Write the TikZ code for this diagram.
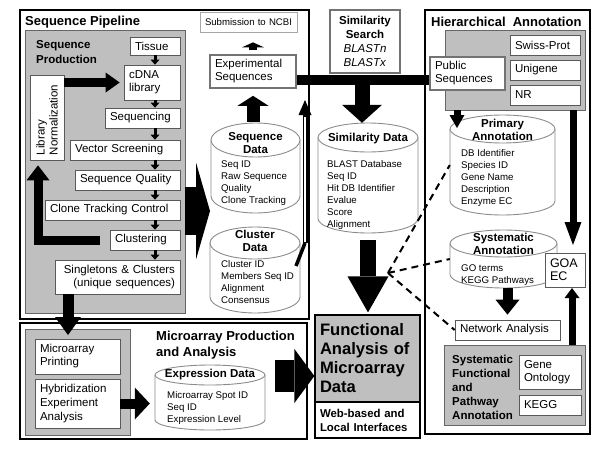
\documentclass[tikz,border=0pt]{standalone}
\usepackage{fontspec}
\setmainfont{Liberation Sans}
\usetikzlibrary{arrows.meta}

\tikzset{
  outerframe/.style={draw=black, line width=1.8pt, inner sep=0pt},
  graybox/.style={draw=black!60, fill=black!25, line width=0.8pt, inner sep=0pt},
  box/.style={draw=black!65, fill=white, line width=0.7pt, inner xsep=5pt, inner ysep=0pt,
    text width=#1, align=left, font=\fontsize{11.5}{13}\selectfont},
  dblbox/.style={box=#1, draw=black!55, line width=1.6pt},
  cylbody/.style={inner sep=0pt},
  cyl/.style={draw=black!45, line width=0.9pt, fill=white},
  cyltitle/.style={font=\bfseries\fontsize{11.5}{13}\selectfont, align=center, inner sep=0pt},
  cyltext/.style={font=\fontsize{9.7}{12}\selectfont, align=left, anchor=north west, inner sep=0pt},
  frametitle/.style={font=\bfseries\fontsize{13}{16}\selectfont, anchor=west, inner sep=0pt},
  smallarr/.style={line width=3pt, -{Triangle[width=9pt,length=5pt,line width=0pt]}},
  fat/.style n args={3}{line width=#1, -{Triangle[width=#2,length=#3,line width=0pt]}},
  dashline/.style={line width=2pt, dash pattern=on 7pt off 5pt}
}

\begin{document}
\begin{tikzpicture}[x=1pt, y=-1pt]
  \useasboundingbox (0,0) rectangle (600,450);

  % frames
  \node[outerframe, minimum width=289pt, minimum height=309pt] (pipeframe) at (164.5,164.5) {};
  \node[outerframe, minimum width=165pt, minimum height=424pt] (hierframe) at (507.5,222) {};
  \node[outerframe, minimum width=287pt, minimum height=116pt] (microframe) at (163.5,381) {};
  \node[frametitle] (pipetitle) at (25,22) {Sequence Pipeline};
  \node[frametitle] (hiertitle) at (431,22) {Hierarchical\ \ Annotation};
  \node[frametitle, anchor=north west, align=left] (microtitle) at (156,331) {Microarray Production\\and Analysis};

  % gray panels
  \node[graybox, minimum width=160pt, minimum height=283pt] (seqprod) at (105,171.5) {};
  \node[graybox, minimum width=140pt, minimum height=80pt] (hiergray) at (515,70) {};
  \node[graybox, minimum width=105pt, minimum height=106pt] (microgray) at (77.5,382) {};
  \node[graybox, minimum width=141pt, minimum height=80pt] (sfpa) at (514.5,385) {};

  % sequence production
  \node[font=\bfseries\fontsize{11.5}{15}\selectfont, align=left, anchor=north west, inner sep=0pt]
    (prodtitle) at (36,40) {Sequence\\Production};
  \node[box=40pt, minimum height=18pt] (tissue) at (155,46) {Tissue};
  \node[box=46pt, minimum height=35pt] (cdna) at (152,82.5) {cDNA\\library};
  \node[box=65pt, minimum height=20pt] (sequencing) at (142.5,118) {Sequencing};
  \node[box=100pt, minimum height=20pt] (vector) at (125,150) {Vector Screening};
  \node[box=95pt, minimum height=20pt] (seqquality) at (127.5,180) {Sequence Quality};
  \node[box=125pt, minimum height=20pt] (clonetrack) at (112.5,210) {Clone Tracking Control};
  \node[box=60pt, minimum height=20pt] (clustering) at (145,240) {Clustering};
  \node[box=115pt, minimum height=34pt, align=right] (singletons) at (117.5,277)
    {Singletons \& Clusters\\(unique sequences)};
  \node[box=75pt, minimum height=34pt, rotate=90] (libnorm) at (47,117.5) {Library\\Normalization};
  \coordinate (pcol) at (155,0);

  % middle column
  \node[box=87pt, minimum height=20pt, inner xsep=5pt, draw=black!35,
    font=\fontsize{9.6}{12}\selectfont] (ncbi) at (248.5,22) {Submission to NCBI};
  \node[dblbox=76pt, minimum height=33pt] (expseq) at (253,71.5) {Experimental\\Sequences};
  \node[dblbox=60pt, minimum height=63pt, align=center, font=\fontsize{11.5}{14}\selectfont]
    (simsearch) at (365,41.5) {\textbf{Similarity}\\\textbf{Search}\\\textit{BLASTn}\\\textit{BLASTx}};

  % sequence data
  \node[cylbody, minimum width=89pt, minimum height=90pt] (seqdata) at (255.5,168) {};
  \draw[cyl] (211,140) -- (211,196) arc[start angle=180, end angle=360, x radius=44.5pt, y radius=17pt] -- (300,140);
  \draw[cyl] (255.5,140) ellipse [x radius=44.5pt, y radius=17pt];
  \node[cyltitle] (seqdatatitle) at (255.5,143.5) {Sequence\\Data};
  \node[cyltext] (seqdatalist) at (221,161) {Seq ID\\Raw Sequence\\Quality\\Clone Tracking};

  % cluster data
  \node[cylbody, minimum width=90pt, minimum height=86pt] (clusdata) at (255,270) {};
  \draw[cyl] (210,243) -- (210,297) arc[start angle=180, end angle=360, x radius=45pt, y radius=16pt] -- (300,243);
  \draw[cyl] (255,243) ellipse [x radius=45pt, y radius=16pt];
  \node[cyltitle] (clusdatatitle) at (255,240.5) {Cluster\\Data};
  \node[cyltext] (clusdatalist) at (221,260) {Cluster ID\\Members Seq ID\\Alignment\\Consensus};

  % similarity data
  \node[cylbody, minimum width=100pt, minimum height=110pt] (simdata) at (368,178) {};
  \draw[cyl] (318,137.5) -- (318,218.5) arc[start angle=180, end angle=360, x radius=50pt, y radius=14.5pt] -- (418,137.5);
  \draw[cyl] (368,137.5) ellipse [x radius=50pt, y radius=14.5pt];
  \node[cyltitle] (simdatatitle) at (368,139) {Similarity Data};
  \node[cyltext] (simdatalist) at (327,160)
    {BLAST Database\\Seq ID\\Hit DB Identifier\\Evalue\\Score\\Alignment};

  % functional analysis
  \node[draw=black, line width=1.2pt, fill=black!25, minimum width=105pt, minimum height=87pt,
    text width=95pt, inner xsep=5pt, align=left, font=\bfseries\fontsize{16.6}{19}\selectfont]
    (funcbox) at (367.5,358.5) {Functional\\Analysis of\\Microarray\\Data};
  \node[draw=black, line width=1.2pt, fill=white, minimum width=105pt, minimum height=36pt,
    text width=95pt, inner xsep=5pt, align=left, font=\bfseries\fontsize{11.4}{14}\selectfont]
    (webbox) at (367.5,420) {Web-based and\\Local Interfaces};

  % hierarchical annotation
  \node[box=60pt, minimum height=20pt] (swissprot) at (545,45) {Swiss-Prot};
  \node[box=60pt, minimum height=20pt] (unigene) at (545,70) {Unigene};
  \node[box=60pt, minimum height=20pt] (nr) at (545,95) {NR};
  \node[dblbox=65pt, minimum height=33pt] (pubseq) at (467.5,73.5) {Public\\Sequences};

  \node[cylbody, minimum width=105pt, minimum height=100pt] (primann) at (502.5,165) {};
  \draw[cyl] (450,129) -- (450,201) arc[start angle=180, end angle=360, x radius=52.5pt, y radius=14pt] -- (555,129);
  \draw[cyl] (502.5,129) ellipse [x radius=52.5pt, y radius=14pt];
  \node[cyltitle] (primanntitle) at (502.5,129.5) {Primary\\Annotation};
  \node[cyltext] (primannlist) at (461,149)
    {DB Identifier\\Species ID\\Gene Name\\Description\\Enzyme EC};

  \node[cylbody, minimum width=107pt, minimum height=58pt] (sysann) at (503.5,259) {};
  \draw[cyl] (450,243.5) -- (450,274.5) arc[start angle=180, end angle=360, x radius=53.5pt, y radius=13.5pt] -- (557,243.5);
  \draw[cyl] (503.5,243.5) ellipse [x radius=53.5pt, y radius=13.5pt];
  \node[cyltitle] (sysanntitle) at (503.5,244) {Systematic\\Annotation};
  \node[cyltext] (sysannlist) at (461,265) {GO terms\\KEGG Pathways};

  \node[box=30pt, minimum height=34pt, font=\fontsize{12.5}{13}\selectfont] (goaec) at (565,270) {GOA\\EC};
  \node[box=95pt, minimum height=20pt] (netanal) at (507.5,330) {Network Analysis};
  \node[font=\bfseries\fontsize{11.5}{14}\selectfont, align=left, anchor=north west, inner sep=0pt]
    (sfpatitle) at (452,355) {Systematic\\Functional\\and\\Pathway\\Annotation};
  \node[box=52pt, minimum height=34pt] (geneont) at (550,372) {Gene\\Ontology};
  \node[box=52pt, minimum height=20pt] (kegg) at (550,405) {KEGG};

  % microarray
  \node[box=75pt, minimum height=35pt] (microprint) at (77.5,356.5) {Microarray\\Printing};
  \node[box=75pt, minimum height=49pt, font=\fontsize{11.5}{14}\selectfont] (hybrid) at (77.5,403.5)
    {Hybridization\\Experiment\\Analysis};
  \node[cylbody, minimum width=110pt, minimum height=65pt] (exprdata) at (210,397.5) {};
  \draw[cyl] (155,375) -- (155,420) arc[start angle=180, end angle=360, x radius=55pt, y radius=10pt] -- (265,375);
  \draw[cyl] (210,375) ellipse [x radius=55pt, y radius=10pt];
  \node[cyltitle] (exprdatatitle) at (210,375) {Expression Data};
  \node[cyltext] (exprdatalist) at (167,391) {Microarray Spot ID\\Seq ID\\Expression Level};

  % connector points
  \coordinate (pipeout) at (210,211);
  \coordinate (simhub) at (362,80);
  \coordinate (clusout) at (296,266);
  \coordinate (clusbend) at (305,243);
  \coordinate (clustip) at (305,100);
  \coordinate (dashhub) at (388,273);
  \coordinate (microout) at (275,376);
  \coordinate (sgdown) at (68,335);
  \coordinate (primarr) at (457,128);
  \coordinate (goaarr) at (573,245);
  \coordinate (goaup) at (572,288);

  \begin{scope}
    \draw[smallarr] (pcol |- tissue.south) -- (pcol |- cdna.north);
    \draw[smallarr] (pcol |- cdna.south) -- (pcol |- sequencing.north);
    \draw[smallarr] (pcol |- sequencing.south) -- (pcol |- vector.north);
    \draw[smallarr] (pcol |- vector.south) -- (pcol |- seqquality.north);
    \draw[smallarr] (pcol |- seqquality.south) -- (pcol |- clonetrack.north);
    \draw[smallarr] (pcol |- clonetrack.south) -- (pcol |- clustering.north);
    \draw[smallarr] (pcol |- clustering.south) -- (pcol |- singletons.north);
    \draw[fat={9pt}{20pt}{14pt}, shorten >=4pt] (libnorm.south |- cdna) -- (cdna.west);
    \draw[fat={9pt}{23pt}{15pt}, shorten <=10pt, shorten >=5pt] (clustering.west) -| ([xshift=-9pt]libnorm.west);
    \draw[fat={48pt}{97pt}{14pt}] (seqprod.east |- pipeout) -- (pipeout);
    \draw[fat={11pt}{26pt}{18pt}] (singletons.south -| sgdown) -- (sgdown);
    \draw[fat={13pt}{31pt}{10pt}, shorten <=1pt, shorten >=7pt] (expseq.south |- seqdata.north) -- (expseq.south);
    \draw[fat={8pt}{22pt}{5pt}, shorten <=4pt, shorten >=10pt] (expseq.north) -- (expseq.north |- ncbi.south);
    \draw[line width=10pt] (expseq.east |- simhub) -- (pubseq.west |- simhub);
    \draw[fat={15pt}{40pt}{18pt}] (simhub) -- (simhub |- simdata.north);
    \draw[line width=3.5pt] (clusout) -- (clusbend);
    \draw[line width=5pt, -{Triangle[width=13pt,length=15pt,line width=0pt]}] (clusbend) -- (clustip);
    \draw[white, line width=1.5pt] ([yshift=1pt]clusbend) -- ([yshift=-17pt]clustip);
    \draw[fat={16pt}{41pt}{36pt}, shorten <=7pt, shorten >=2pt] (simdata.south) -- (simdata.south |- funcbox.north);
    \draw[fat={32pt}{54pt}{20pt}] (microout) -- (microout -| funcbox.west);
    \draw[fat={10pt}{32pt}{15pt}, shorten >=5pt] (hybrid.east) -- (hybrid.east -| exprdata.west);
    \draw[fat={7pt}{15pt}{13pt}] (primarr |- hiergray.south) -- (primarr);
    \draw[fat={7pt}{17pt}{23pt}] (goaarr |- hiergray.south) -- (goaarr);
    \draw[fat={7pt}{15pt}{10pt}] (goaup |- sfpa.north) -- (goaup);
    \draw[fat={10pt}{24pt}{15pt}, shorten >=5pt] (netanal.north |- sysann.south) -- (netanal.north);
    \draw[dashline] (dashhub) -- (primann.west);
    \draw[dashline] (dashhub) -- (sysann.west);
    \draw[dashline] (dashhub) -- (netanal.west);
  \end{scope}
\end{tikzpicture}
\end{document}
